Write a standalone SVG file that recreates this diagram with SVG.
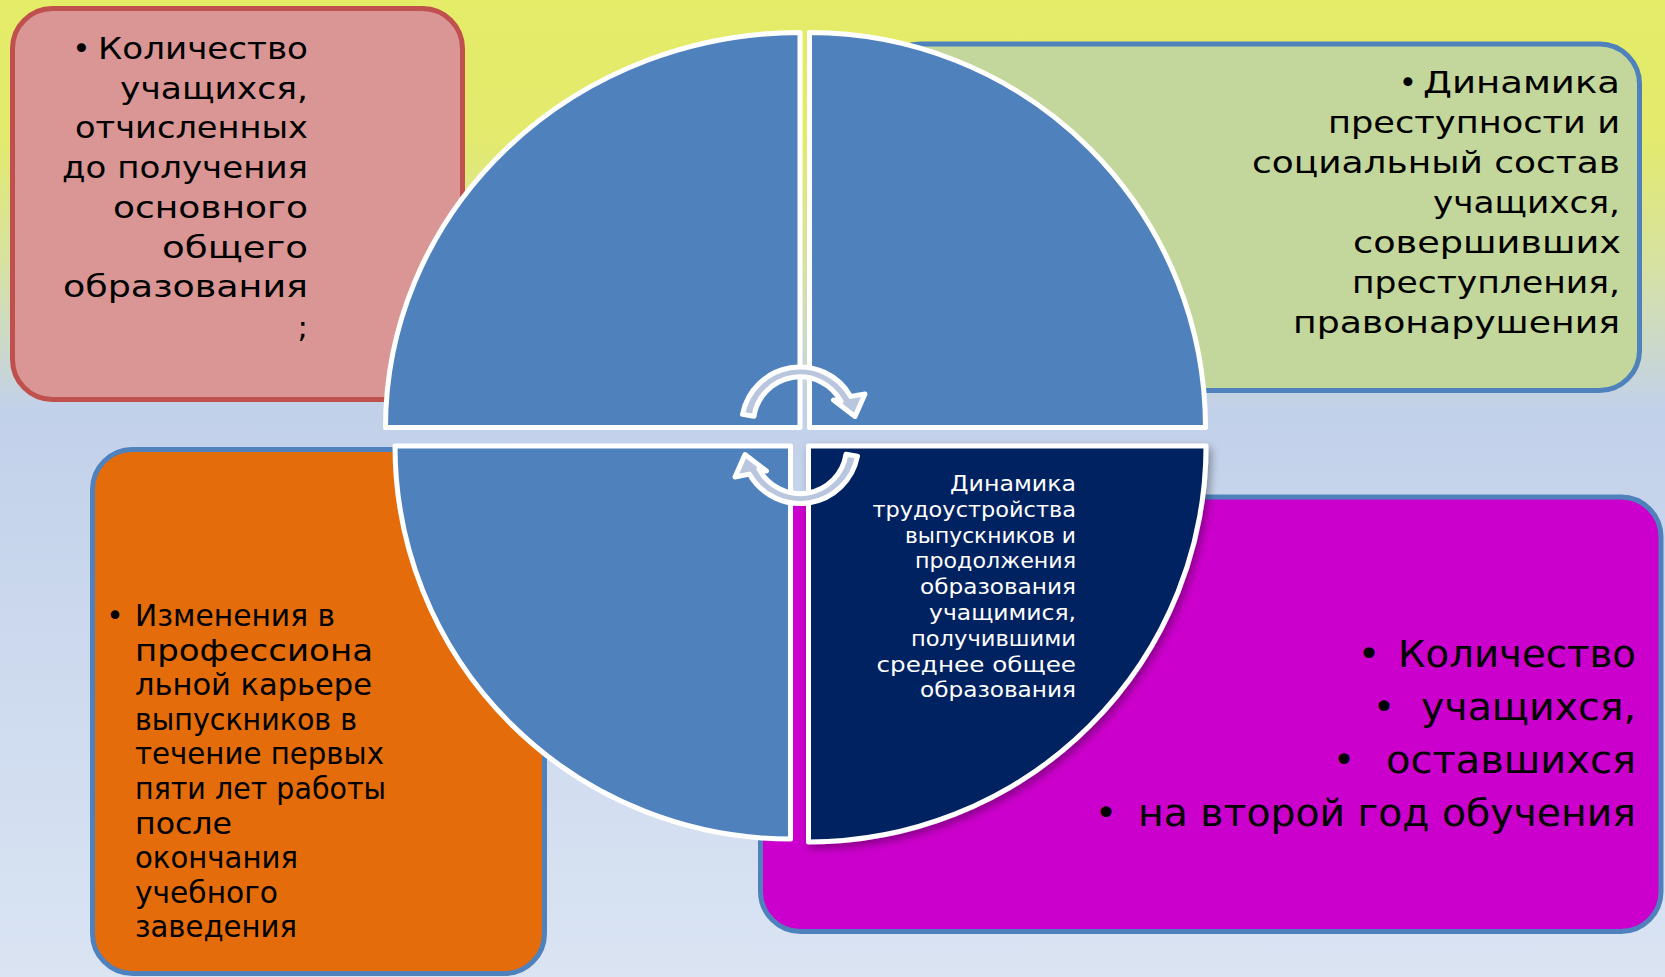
<svg xmlns="http://www.w3.org/2000/svg" width="1665" height="977" viewBox="0 0 1665 977">
<defs>
<linearGradient id="bg" x1="0" y1="0" x2="0" y2="1">
<stop offset="0" stop-color="#e5ec68"/>
<stop offset="0.14" stop-color="#e3ea6d"/>
<stop offset="0.27" stop-color="#d7e2a2"/>
<stop offset="0.42" stop-color="#c2d1ea"/>
<stop offset="1" stop-color="#dae4f3"/>
</linearGradient>
<filter id="sh" x="-10%" y="-10%" width="130%" height="130%">
<feDropShadow dx="3" dy="4" stdDeviation="4" flood-color="#000" flood-opacity="0.35"/>
</filter>
</defs>
<style>
.box{stroke-width:5}
.q{stroke:#fff;stroke-width:5;stroke-linejoin:round}
.qb{fill:#4f81bd}
.arr{fill:#b9c6dd;stroke:#fff;stroke-width:5;stroke-linejoin:round}
.t{font-family:"DejaVu Sans","Liberation Sans",sans-serif;fill:#000}
.f31{font-size:31px}
.f29{font-size:29.5px}
.f38{font-size:38px}
.f21{font-size:21px;fill:#fff}
.e{text-anchor:end}
.m{text-anchor:middle}
</style>
<rect x="0" y="0" width="1665" height="977" fill="url(#bg)"/>

<g id="box-red">
<rect class="box" x="12.5" y="8.5" width="450" height="391" rx="40" fill="#d99694" stroke="#c0504d"/>
</g>
<g id="box-green">
<rect class="box" x="880" y="44" width="759.5" height="346.5" rx="40" fill="#c3d69b" stroke="#4f81bd"/>
</g>
<g id="box-orange">
<rect class="box" x="92.5" y="449.5" width="452" height="524" rx="40" fill="#e46c0a" stroke="#4f81bd"/>
</g>
<g id="box-purple">
<rect class="box" x="760.5" y="497" width="900.5" height="434.5" rx="40" fill="#cc00cc" stroke="#4f81bd"/>
</g>

<g id="quadrant-tl">
<path class="q qb" d="M800 427.5 L385.5 427.5 A414.5 395 0 0 1 800 32.5 Z"/>
</g>
<g id="quadrant-tr">
<path class="q qb" d="M809.5 427.5 L809.5 32.5 A396 395 0 0 1 1205.5 427.5 Z"/>
</g>
<g id="quadrant-bl">
<path class="q qb" d="M790.5 446 L790.5 839 A395.5 393 0 0 1 395 446 Z"/>
</g>
<g id="quadrant-br">
<path class="q" fill="#002060" filter="url(#sh)" d="M808.5 446 L1206 446 A397.5 396 0 0 1 808.5 842 Z"/>
</g>

<g id="connectors">
<path class="arr" d="M742.5 414.4 A58.5 58.5 0 0 1 850.7 396.4 L865 394 L855 416.5 L833.5 400 L841.1 401.7 A46.5 46.5 0 0 0 754 416.3 Z"/>
<path class="arr" d="M857.5 456.1 A58.5 58.5 0 0 1 749.3 474.1 L735 477 L745 454.5 L766.5 471 L758.9 468.8 A46.5 46.5 0 0 0 846 454.2 Z"/>
</g>

<g id="text-red" class="t f31">
<text class="m" x="81.5" y="59">•</text>
<text class="e" x="308" y="59" textLength="210" lengthAdjust="spacingAndGlyphs">Количество</text>
<text class="e" x="308" y="98.7" textLength="188" lengthAdjust="spacingAndGlyphs">учащихся,</text>
<text class="e" x="308" y="138.4" textLength="233" lengthAdjust="spacingAndGlyphs">отчисленных</text>
<text class="e" x="308" y="178.1" textLength="246" lengthAdjust="spacingAndGlyphs">до получения</text>
<text class="e" x="308" y="217.8" textLength="195" lengthAdjust="spacingAndGlyphs">основного</text>
<text class="e" x="308" y="257.5" textLength="146" lengthAdjust="spacingAndGlyphs">общего</text>
<text class="e" x="308" y="297.2" textLength="245" lengthAdjust="spacingAndGlyphs">образования</text>
<text class="e" x="308" y="336.9">;</text>
</g>

<g id="text-green" class="t f31">
<text class="m" x="1408" y="93">•</text>
<text class="e" x="1620" y="93" textLength="197" lengthAdjust="spacingAndGlyphs">Динамика</text>
<text class="e" x="1620" y="133" textLength="292" lengthAdjust="spacingAndGlyphs">преступности и</text>
<text class="e" x="1620" y="173" textLength="368" lengthAdjust="spacingAndGlyphs">социальный состав</text>
<text class="e" x="1620" y="213" textLength="187" lengthAdjust="spacingAndGlyphs">учащихся,</text>
<text class="e" x="1621" y="253" textLength="268" lengthAdjust="spacingAndGlyphs">совершивших</text>
<text class="e" x="1620" y="293" textLength="268" lengthAdjust="spacingAndGlyphs">преступления,</text>
<text class="e" x="1620" y="333" textLength="327" lengthAdjust="spacingAndGlyphs">правонарушения</text>
</g>

<g id="text-orange" class="t f29">
<text class="m" x="115" y="626">•</text>
<text x="135" y="626" textLength="200" lengthAdjust="spacingAndGlyphs">Изменения в</text>
<text x="135" y="660.6" textLength="238" lengthAdjust="spacingAndGlyphs">профессиона</text>
<text x="135" y="695.2" textLength="237" lengthAdjust="spacingAndGlyphs">льной карьере</text>
<text x="135" y="729.8" textLength="222" lengthAdjust="spacingAndGlyphs">выпускников в</text>
<text x="135" y="764.4" textLength="249" lengthAdjust="spacingAndGlyphs">течение первых</text>
<text x="135" y="799" textLength="251" lengthAdjust="spacingAndGlyphs">пяти лет работы</text>
<text x="135" y="833.6" textLength="97" lengthAdjust="spacingAndGlyphs">после</text>
<text x="135" y="868.2" textLength="163" lengthAdjust="spacingAndGlyphs">окончания</text>
<text x="135" y="902.8" textLength="143" lengthAdjust="spacingAndGlyphs">учебного</text>
<text x="135" y="937.4" textLength="162" lengthAdjust="spacingAndGlyphs">заведения</text>
</g>

<g id="text-navy" class="t f21">
<text class="e" x="1076" y="491" textLength="126" lengthAdjust="spacingAndGlyphs">Динамика</text>
<text class="e" x="1076" y="516.8" textLength="203.5" lengthAdjust="spacingAndGlyphs">трудоустройства</text>
<text class="e" x="1076" y="542.6" textLength="171" lengthAdjust="spacingAndGlyphs">выпускников и</text>
<text class="e" x="1076" y="568.4" textLength="161" lengthAdjust="spacingAndGlyphs">продолжения</text>
<text class="e" x="1076" y="594.2" textLength="156" lengthAdjust="spacingAndGlyphs">образования</text>
<text class="e" x="1076" y="620" textLength="147" lengthAdjust="spacingAndGlyphs">учащимися,</text>
<text class="e" x="1076" y="645.8" textLength="165" lengthAdjust="spacingAndGlyphs">получившими</text>
<text class="e" x="1076" y="671.6" textLength="199.5" lengthAdjust="spacingAndGlyphs">среднее общее</text>
<text class="e" x="1076" y="697.4" textLength="156" lengthAdjust="spacingAndGlyphs">образования</text>
</g>

<g id="text-purple" class="t f38">
<text class="m" x="1369" y="667">•</text>
<text class="e" x="1636" y="667" textLength="238" lengthAdjust="spacingAndGlyphs">Количество</text>
<text class="m" x="1384" y="720">•</text>
<text class="e" x="1636" y="720" textLength="215" lengthAdjust="spacingAndGlyphs">учащихся,</text>
<text class="m" x="1344" y="773">•</text>
<text class="e" x="1636" y="773" textLength="250" lengthAdjust="spacingAndGlyphs">оставшихся</text>
<text class="m" x="1106" y="826">•</text>
<text class="e" x="1636" y="826" textLength="498" lengthAdjust="spacingAndGlyphs">на второй год обучения</text>
</g>
</svg>
